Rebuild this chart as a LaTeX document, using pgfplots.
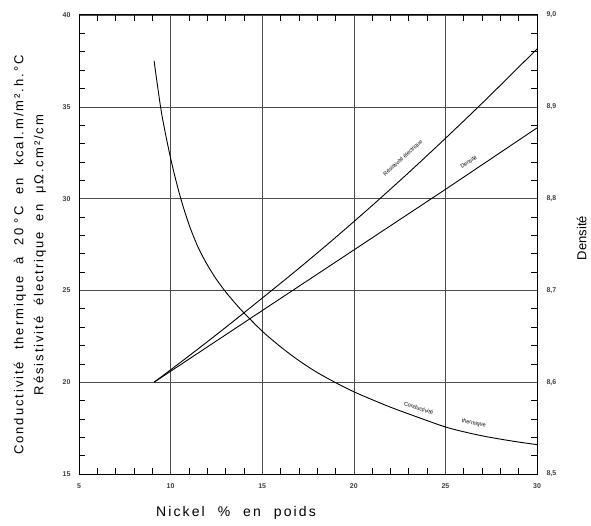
\documentclass[border=0pt]{standalone}
\usepackage{pgfplots}
\pgfplotsset{compat=1.18}
\usepackage{fontspec}
\setmainfont{Liberation Sans}
\newfontfamily\lbl[LetterSpace=15]{Liberation Sans}

\begin{document}
\begin{tikzpicture}
\path[use as bounding box] (-79pt,-51pt) rectangle (512pt,474pt);
\begin{axis}[scale only axis, width=458pt, height=459pt,
    xmin=5, xmax=30, ymin=15, ymax=40,
    xtick={5,10,15,20,25,30}, ytick={15,20,25,30,35,40},
    minor xtick={6,7,8,9,11,12,13,14,16,17,18,19,21,22,23,24,26,27,28,29},
    minor ytick={16,17,18,19,21,22,23,24,26,27,28,29,31,32,33,34,36,37,38,39},
    grid=major, major grid style={black!70, line width=0.5pt},
    major tick length=0pt, minor tick length=6pt,
    axis line style={line width=1pt},
    minor tick style={black, line width=0.6pt},
    tick label style={font=\fontsize{7}{7}\selectfont\bfseries, text=black!75},
    /pgf/number format/assume math mode=true,
    xticklabel style={yshift=-6pt}, yticklabel style={xshift=-5pt}]
% conductivite thermique
\addplot[black, line width=0.9pt, smooth] coordinates {
(9.1,37.5)(9.5,34.7)(10,32.2)(10.5,30.2)(11,28.6)(11.5,27.35)(12,26.4)(12.5,25.6)
(13,24.93)(13.5,24.33)(14,23.78)(15,22.78)(16,21.93)(17,21.18)(18,20.53)(19,19.98)
(20,19.48)(21,19.05)(22,18.64)(23,18.27)(24,17.91)(25,17.56)(26,17.3)(27,17.08)
(28,16.9)(29,16.74)(30,16.6)};
% resistivite electrique
\addplot[black, line width=0.9pt, smooth] coordinates {
(9.1,20)(11,21.43)(13,22.98)(15,24.58)(17,26.2)(19,27.88)(21,29.62)(23,31.42)
(25,33.28)(27,35.19)(29,37.16)(30,38.15)};
\node[rotate=42, font=\fontsize{5.5}{5.5}\selectfont] at (axis cs:22.69,32.19) {Résistivité électrique};
\node[rotate=34, font=\fontsize{5.5}{5.5}\selectfont] at (axis cs:26.27,32.0) {Densité};
\node[rotate=-17, font=\fontsize{5.5}{5.5}\selectfont] at (axis cs:23.54,18.58) {Conductivité};
\node[rotate=-12, font=\fontsize{5.5}{5.5}\selectfont] at (axis cs:26.55,17.76) {thermique};
\end{axis}
\begin{axis}[scale only axis, width=458pt, height=459pt,
    xmin=5, xmax=30, ymin=8.5, ymax=9.0,
    axis x line=none, axis y line*=right,
    ytick={8.5,8.6,8.7,8.8,8.9,9.0},
    major tick length=0pt,
    axis line style={line width=1pt},
    tick label style={font=\fontsize{7}{7}\selectfont\bfseries, text=black!75},
    /pgf/number format/assume math mode=true,
    /pgf/number format/fixed, /pgf/number format/fixed zerofill,
    /pgf/number format/precision=1, /pgf/number format/use comma,
    yticklabel style={xshift=6pt}]
% densite
\addplot[black, line width=0.9pt] coordinates {(9.1,8.6)(15,8.678)(20,8.744)(25,8.810)(30,8.877)};
\end{axis}
\node[rotate=90, align=center, font=\fontsize{13}{20}\lbl] at (-49pt,219pt)
  {Conductivité\hspace{0.5em} thermique\hspace{0.5em} à\hspace{0.5em} 20 °C\hspace{0.5em} en\hspace{0.5em} kcal.m/m².h.°C\\Résistivité\hspace{0.4em} électrique\hspace{0.4em} en\hspace{0.4em} μΩ.cm²/cm};
\node[font=\fontsize{14}{16}\lbl] at (157pt,-39pt) {Nickel\hspace{0.5em} \%\hspace{0.5em} en\hspace{0.5em} poids};
\node[rotate=90, font=\fontsize{13}{16}\selectfont] at (502.7pt,236pt) {Densité};
\end{tikzpicture}
\end{document}
